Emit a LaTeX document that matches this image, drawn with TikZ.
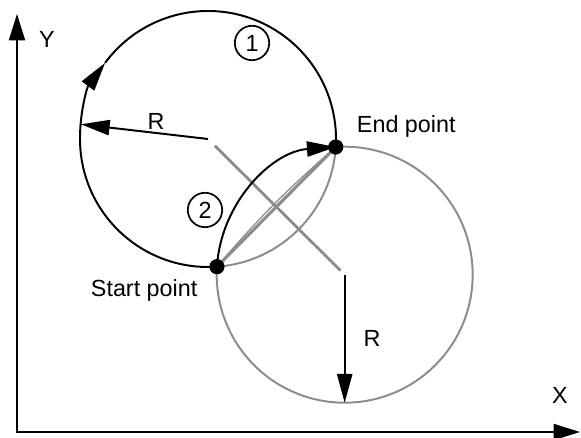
\documentclass[tikz,border=0pt]{standalone}
\usepackage{fontspec}
\setmainfont{Liberation Sans}
\usepackage{tikz}
\usetikzlibrary{arrows.meta, calc}
\definecolor{lgray}{HTML}{8C8C8C}

\begin{document}
\begin{tikzpicture}[
    every node/.style={font=\fontsize{16.6}{19}\selectfont},
    tip/.style={-{Triangle[length=0.72cm, width=0.38cm]}},
    blackline/.style={line width=1.4pt, black},
    guide/.style={line width=1.4pt, color=lgray},
    axis/.style={line width=1.4pt, {Triangle[length=0.66cm, width=0.4cm]}-{Triangle[length=0.66cm, width=0.4cm]}},
    dot/.style={circle, fill=black, inner sep=0pt, minimum size=0.38cm},
    num/.style={circle, draw, line width=1.2pt, inner sep=0pt, minimum size=0.86cm}
]
\useasboundingbox (0,0) rectangle (14.525,10.95);

% POINTS
\coordinate (c1) at (5.2,7.475);
\coordinate (s) at ($(c1)+(274:3.2)$);
\coordinate (e) at ($(c1)+(-3.6:3.2)$);
\coordinate (c2) at ($(s)+(e)-(c1)$);
\coordinate (r1) at ($(c1)+(173.4:3.2)$);
\coordinate (r2) at ($(c2)+(270:3.2)$);
\coordinate (o) at (0.425,0.15);
\coordinate (ytop) at (0.425,10.6);
\coordinate (xend) at (14.5,0.15);

% GREY PARTS
\draw[guide] (e) arc[start angle=-3.6, end angle=-86, radius=3.2];
\draw[guide] (e) arc[start angle=94, end angle=-183.6, radius=3.2];
\draw[guide, line width=2.2pt] (s) -- (e);
\draw[guide, line width=0.9pt] (s) to[bend left=4] (e);
\draw[guide, line width=2pt] ($(c1)!0.05!(c2)$) -- ($(c1)!0.97!(c2)$);

% BLACK PATH
\draw[blackline, tip] (s) arc[start angle=274, end angle=143.5, radius=3.2] coordinate (m1);
\draw[blackline] (m1) arc[start angle=143.5, end angle=-3.6, radius=3.2];
\draw[blackline, tip] (s) arc[start angle=176.4, end angle=94, radius=3.2];

% RADII
\draw[blackline, tip] (c1) -- (r1);
\draw[blackline, tip] (c2) -- (r2);

% AXES
\draw[axis] (ytop) -- (o) -- (xend);

% DOTS
\node[dot] (start) at (s) {};
\node[dot] (end) at (e) {};

% LABELS
\node[anchor=base west] (lstart) at (2.15,3.525) {Start point};
\node[anchor=base west] (lend) at (8.8,7.625) {End point};
\node (lr1) at (3.9,7.925) {R};
\node (lr2) at (9.3,2.5) {R};
\node (ly) at (1.175,9.975) {Y};
\node (lx) at (14.0,1.075) {X};
\node[num] (n1) at (6.3,9.875) {1};
\node[num] (n2) at (5.125,5.7) {2};

\end{tikzpicture}
\end{document}
